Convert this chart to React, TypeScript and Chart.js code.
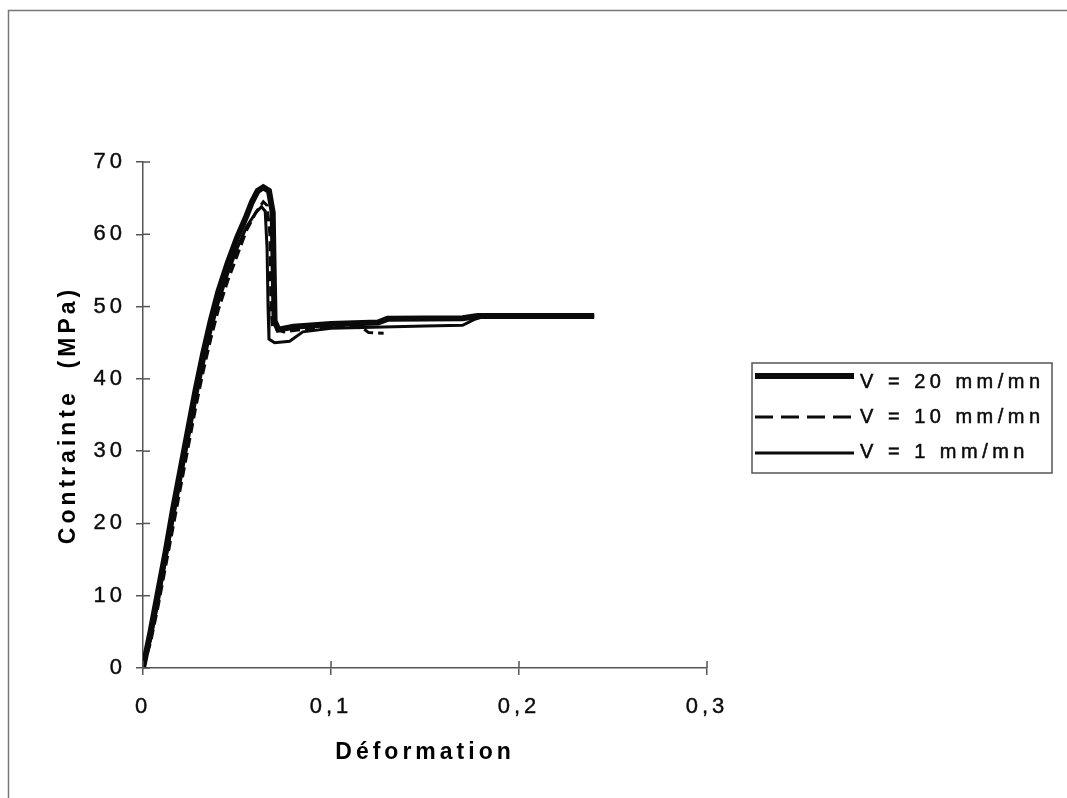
import React, { useEffect, useRef } from 'react';
import { Chart, registerables } from 'chart.js';

Chart.register(...registerables);

// ---- data ----
const seriesLabels = ['V = 20 mm/mn', 'V = 10 mm/mn', 'V = 1 mm/mn'];

const strain20 = [0, 0.004, 0.008, 0.012, 0.016, 0.02, 0.024, 0.028, 0.032, 0.036, 0.04, 0.045, 0.05, 0.055, 0.058, 0.061, 0.064, 0.067, 0.069, 0.0695, 0.07, 0.072, 0.08, 0.1, 0.125, 0.13, 0.17, 0.178, 0.24];
const stress20 = [0, 5, 10.5, 16, 22, 27.5, 33, 38.5, 43.5, 48, 52, 56, 59.5, 62.5, 64.5, 66, 66.5, 66, 63, 55, 48, 46.8, 47.2, 47.6, 47.8, 48.3, 48.4, 48.7, 48.7];

const strain10 = [0, 0.004, 0.008, 0.012, 0.016, 0.02, 0.024, 0.028, 0.032, 0.036, 0.04, 0.045, 0.05, 0.055, 0.06, 0.064, 0.066, 0.0675, 0.068, 0.069, 0.075, 0.09, 0.11, 0.117, 0.12, 0.128];
const stress10 = [0, 3.5, 8.5, 14, 19.5, 25, 30.5, 36, 41, 45.5, 49.5, 53.5, 57, 60.5, 63, 64.5, 64, 60, 50, 47, 46.5, 47, 47.3, 47, 46.4, 46.3];

const strain1 = [0, 0.004, 0.008, 0.012, 0.016, 0.02, 0.024, 0.028, 0.032, 0.036, 0.04, 0.045, 0.05, 0.055, 0.06, 0.063, 0.065, 0.066, 0.0665, 0.067, 0.07, 0.078, 0.085, 0.1, 0.15, 0.17, 0.176, 0.182, 0.24];
const stress1 = [0, 4, 9, 15, 20.5, 26, 31.5, 37, 42, 46.5, 50.5, 54.5, 58, 61, 63, 63.8, 63.2, 58, 50, 45.5, 45, 45.2, 46.5, 47, 47.3, 47.4, 48.2, 48.7, 48.7];

const xTickValues = [0, 0.1, 0.2, 0.3];
const yTickValues = [0, 10, 20, 30, 40, 50, 60, 70];

const xTitle = 'Déformation';
const yTitle = 'Contrainte  (MPa)';

const FONT = '"Liberation Sans", Arial, Helvetica, sans-serif';
const AXIS = '#555';
const INK = '#0a0a0a';

const toPoints = (xs: number[], ys: number[]) => xs.map((x, i) => ({ x, y: ys[i] }));

const legendStyles = [
  { width: 6, dash: [] as number[] },
  { width: 3, dash: [18, 8] },
  { width: 3, dash: [] as number[] },
];

const decorPlugin = {
  id: 'decor',
  beforeDraw(chart: any) {
    chart.ctx.letterSpacing = '4px';
  },
  afterDraw(chart: any) {
    const ctx = chart.ctx as CanvasRenderingContext2D;
    const xs = chart.scales.x;
    const ys = chart.scales.y;
    const area = chart.chartArea;
    ctx.save();
    (ctx as any).letterSpacing = '0px';
    // inward halves of crossing ticks
    ctx.strokeStyle = AXIS;
    ctx.lineWidth = 1.5;
    ctx.setLineDash([]);
    xs.ticks.forEach((t: any) => {
      const px = xs.getPixelForValue(t.value);
      ctx.beginPath();
      ctx.moveTo(px, area.bottom);
      ctx.lineTo(px, area.bottom - 7);
      ctx.stroke();
    });
    ys.ticks.forEach((t: any) => {
      const py = ys.getPixelForValue(t.value);
      ctx.beginPath();
      ctx.moveTo(area.left, py);
      ctx.lineTo(area.left + 7, py);
      ctx.stroke();
    });
    // outer frame (scanned page border)
    ctx.strokeStyle = '#777';
    ctx.lineWidth = 1.5;
    ctx.beginPath();
    ctx.moveTo(8.5, chart.height);
    ctx.lineTo(8.5, 10.5);
    ctx.lineTo(chart.width, 10.5);
    ctx.stroke();
    // legend
    const box = { left: 752, top: 363, width: 300, height: 110 };
    ctx.strokeStyle = '#555';
    ctx.lineWidth = 1.5;
    ctx.strokeRect(box.left, box.top, box.width, box.height);
    const lineYs = [376, 417, 453];
    const textYs = [382, 417, 452];
    ctx.strokeStyle = INK;
    ctx.fillStyle = INK;
    ctx.font = `20px ${FONT}`;
    ctx.textBaseline = 'middle';
    ctx.textAlign = 'left';
    chart.data.datasets.forEach((ds: any, i: number) => {
      const st = legendStyles[i];
      ctx.setLineDash(st.dash);
      ctx.lineWidth = st.width;
      ctx.beginPath();
      ctx.moveTo(755, lineYs[i]);
      ctx.lineTo(854, lineYs[i]);
      ctx.stroke();
      ctx.setLineDash([]);
      (ctx as any).letterSpacing = '4.5px';
      ctx.lineWidth = 0.5;
      ctx.strokeText(ds.label, 860, textYs[i]);
      ctx.fillText(ds.label, 860, textYs[i]);
      (ctx as any).letterSpacing = '0px';
    });
    ctx.restore();
    (ctx as any).letterSpacing = '0px';
  },
};

export default function App() {
  const canvasRef = useRef<HTMLCanvasElement | null>(null);

  useEffect(() => {
    document.body.style.margin = '0';
    document.body.style.background = '#fff';
    const canvas = canvasRef.current;
    if (!canvas) return;
    const chart = new Chart(canvas, {
      type: 'line',
      data: {
        datasets: [
          {
            label: seriesLabels[0],
            data: toPoints(strain20, stress20),
            borderColor: INK,
            borderWidth: 6,
            pointRadius: 0,
            tension: 0,
            fill: false,
          },
          {
            label: seriesLabels[1],
            data: toPoints(strain10, stress10),
            borderColor: INK,
            borderWidth: 3,
            borderDash: [10, 5],
            pointRadius: 0,
            tension: 0,
            fill: false,
          },
          {
            label: seriesLabels[2],
            data: toPoints(strain1, stress1),
            borderColor: INK,
            borderWidth: 3,
            pointRadius: 0,
            tension: 0,
            fill: false,
          },
        ],
      },
      options: {
        animation: false,
        responsive: false,
        devicePixelRatio: 1,
        layout: { padding: { left: 0, top: 162, right: 360, bottom: 0 } },
        plugins: {
          legend: { display: false },
          tooltip: { enabled: false },
          title: { display: false },
        },
        scales: {
          x: {
            type: 'linear',
            min: 0,
            max: 0.3,
            afterFit: (s: any) => { s.height = 130; },
            afterBuildTicks: (s: any) => { s.ticks = xTickValues.map((v) => ({ value: v })); },
            grid: { drawOnChartArea: false, drawTicks: true, tickLength: 7, color: AXIS, lineWidth: 1.5 },
            border: { display: true, color: AXIS, width: 1.5 },
            ticks: {
              color: INK,
              font: { family: FONT, size: 22 },
              textStrokeColor: INK,
              textStrokeWidth: 0.4,
              padding: 19,
              maxRotation: 0,
              callback: (v: any) => (Number(v) === 0 ? '0' : (Math.round(Number(v) * 10) / 10).toFixed(1).replace('.', ',')),
            },
            title: {
              display: true,
              text: xTitle,
              color: '#000',
              font: { family: FONT, size: 23, weight: 'bold' },
              padding: { top: 0, bottom: 32 },
            },
          },
          y: {
            type: 'linear',
            min: 0,
            max: 70,
            afterFit: (s: any) => { s.width = 143; },
            afterBuildTicks: (s: any) => { s.ticks = yTickValues.map((v) => ({ value: v })); },
            grid: { drawOnChartArea: false, drawTicks: true, tickLength: 7, color: AXIS, lineWidth: 1.5 },
            border: { display: true, color: AXIS, width: 1.5 },
            ticks: {
              color: INK,
              font: { family: FONT, size: 22 },
              textStrokeColor: INK,
              textStrokeWidth: 0.4,
              padding: 10,
              callback: (v: any) => String(v),
            },
            title: {
              display: true,
              text: yTitle,
              color: '#000',
              font: { family: FONT, size: 23, weight: 'bold' },
              padding: { top: 55, bottom: 0 },
            },
          },
        },
      } as any,
      plugins: [decorPlugin],
    });
    return () => chart.destroy();
  }, []);

  return (
    <div style={{ width: 1067, height: 798, position: 'relative', background: '#fff' }}>
      <canvas ref={canvasRef} width={1067} height={798} style={{ display: 'block', width: 1067, height: 798 }} />
    </div>
  );
}
